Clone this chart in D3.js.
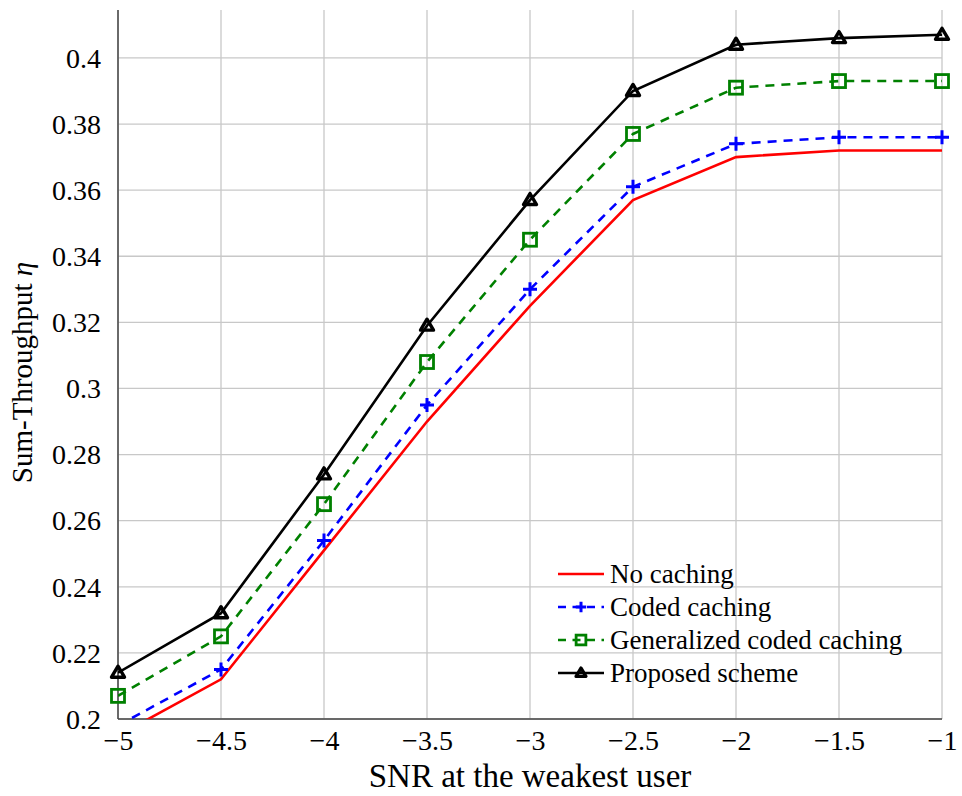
<!DOCTYPE html>
<html>
<head>
<meta charset="utf-8">
<script src="https://cdn.jsdelivr.net/npm/d3@7"></script>
<style>
  body { margin: 0; background: #fff; }
  svg text { font-family: "Liberation Serif", "Times New Roman", serif; }
</style>
</head>
<body>
<div id="chart"></div>
<script>
// data
var snr = [-5, -4.5, -4, -3.5, -3, -2.5, -2, -1.5, -1]
var noCaching = [0.195, 0.212, 0.251, 0.290, 0.325, 0.357, 0.370, 0.372, 0.372]
var codedCaching = [0.198, 0.215, 0.254, 0.295, 0.330, 0.361, 0.374, 0.376, 0.376]
var generalized = [0.207, 0.225, 0.265, 0.308, 0.345, 0.377, 0.391, 0.393, 0.393]
var proposed = [0.214, 0.232, 0.274, 0.319, 0.357, 0.390, 0.404, 0.406, 0.407]
var xTicks = [-5, -4.5, -4, -3.5, -3, -2.5, -2, -1.5, -1]
var yTicks = [0.2, 0.22, 0.24, 0.26, 0.28, 0.3, 0.32, 0.34, 0.36, 0.38, 0.4]
var names = ["No caching", "Coded caching", "Generalized coded caching", "Proposed scheme"]

var svgWidth = 962, svgHeight = 796
var margin = {top: 10, right: 20, bottom: 77, left: 118}
var chartWidth = svgWidth - margin.left - margin.right
var chartHeight = svgHeight - margin.top - margin.bottom

var svg = d3.select("#chart").append("svg")
  .attr("width", svgWidth)
  .attr("height", svgHeight)

var chartGroup = svg.append("g")
  .attr("transform", `translate(${margin.left}, ${margin.top})`)

var xScale = d3.scaleLinear().domain([-5, -1]).range([0, chartWidth])
var yScale = d3.scaleLinear().domain([0.2, 0.4145]).range([chartHeight, 0])

var minus = s => s.replace("-", "\u2212")

// grid
chartGroup.append("g").selectAll("line.gx")
  .data(xTicks).enter().append("line")
  .attr("x1", d => xScale(d)).attr("x2", d => xScale(d))
  .attr("y1", 0).attr("y2", chartHeight)
  .attr("stroke", "#c8c8c8").attr("stroke-width", 1.3)
chartGroup.append("g").selectAll("line.gy")
  .data(yTicks).enter().append("line")
  .attr("x1", 0).attr("x2", chartWidth)
  .attr("y1", d => yScale(d)).attr("y2", d => yScale(d))
  .attr("stroke", "#c8c8c8").attr("stroke-width", 1.3)

// axes
var xAxis = d3.axisBottom(xScale).tickValues(xTicks).tickSize(0).tickPadding(9)
  .tickFormat(d => minus(d3.format("")(d)))
var yAxis = d3.axisLeft(yScale).tickValues(yTicks).tickSize(0).tickPadding(17)
  .tickFormat(d => d3.format("")(d))

var gx = chartGroup.append("g")
  .attr("transform", `translate(0, ${chartHeight})`)
  .call(xAxis)
var gy = chartGroup.append("g").call(yAxis)
gx.select(".domain").remove()
gy.select(".domain").remove()
gx.attr("font-family", null)
gy.attr("font-family", null)
gx.selectAll("text").attr("fill", "#000")
  .style("font-family", "'Liberation Serif', serif").style("font-size", "28px").attr("dy", "0.8em")
gy.selectAll("text").attr("fill", "#000")
  .style("font-family", "'Liberation Serif', serif").style("font-size", "28px").attr("dy", "0.33em")

chartGroup.append("line").attr("x1", 0).attr("x2", 0).attr("y1", 0).attr("y2", chartHeight)
  .attr("stroke", "#444").attr("stroke-width", 1.5)
chartGroup.append("line").attr("x1", 0).attr("x2", chartWidth).attr("y1", chartHeight).attr("y2", chartHeight)
  .attr("stroke", "#444").attr("stroke-width", 1.5)

// clip lines to the plot area
svg.append("defs").append("clipPath").attr("id", "clipLine")
  .append("rect").attr("x", 0).attr("y", -12).attr("width", chartWidth + 12).attr("height", chartHeight + 12)

var series = [
  {name: names[0], values: noCaching, color: "#ff0000", dash: null, mark: "none"},
  {name: names[1], values: codedCaching, color: "#0000ff", dash: "9,7", mark: "plus"},
  {name: names[2], values: generalized, color: "#008000", dash: "9,7", mark: "square"},
  {name: names[3], values: proposed, color: "#000000", dash: null, mark: "triangle"}
]

var line = d3.line().x((d, i) => xScale(snr[i])).y(d => yScale(d))

function drawMark(g, type, color, k) {
  if (type == "plus") {
    g.append("path").attr("d", `M${-7 * k},0H${7 * k}M0,${-7 * k}V${7 * k}`)
      .attr("stroke", color).attr("stroke-width", 3).attr("fill", "none")
  } else if (type == "square") {
    g.append("rect").attr("x", -6.5 * k).attr("y", -6.5 * k).attr("width", 13 * k).attr("height", 13 * k)
      .attr("stroke", color).attr("stroke-width", 2.8).attr("fill", "none")
  } else if (type == "triangle") {
    g.append("path").attr("d", `M0,${-6.5 * k}L${6.5 * k},${4.5 * k}L${-6.5 * k},${4.5 * k}Z`)
      .attr("stroke", color).attr("stroke-width", 3.4).attr("fill", "none")
      .attr("stroke-linejoin", "round")
  }
}

series.forEach(function(s) {
  chartGroup.append("path")
    .datum(s.values)
    .attr("clip-path", "url(#clipLine)")
    .attr("d", line)
    .attr("fill", "none")
    .attr("stroke", s.color)
    .attr("stroke-width", 2.6)
    .attr("stroke-dasharray", s.dash)

  if (s.mark != "none") {
    s.values.forEach(function(v, i) {
      if (v < 0.2) return
      var g = chartGroup.append("g")
        .attr("transform", `translate(${xScale(snr[i])}, ${yScale(v)})`)
      drawMark(g, s.mark, s.color, 1)
    })
  }
})

// legend
var legend = svg.append("g").attr("transform", "translate(558, 574)")
series.forEach(function(s, i) {
  var row = legend.append("g").attr("transform", `translate(0, ${i * 33})`)
  row.append("line").attr("x1", 0).attr("x2", 46).attr("y1", 0).attr("y2", 0)
    .attr("stroke", s.color).attr("stroke-width", 2.6)
    .attr("stroke-dasharray", s.dash ? "8,6.5" : null)
  if (s.mark != "none") {
    var g = row.append("g").attr("transform", "translate(23, 0)")
    drawMark(g, s.mark, s.color, 0.75)
  }
  row.append("text").attr("x", 52).attr("y", 0).attr("dy", "0.33em")
    .style("font-size", "27px").text(s.name)
})

// axis labels
svg.append("text")
  .attr("x", 530).attr("y", 787)
  .attr("text-anchor", "middle").style("font-size", "33px")
  .text("SNR at the weakest user")

var yl = svg.append("text")
  .attr("transform", `translate(32, ${margin.top + chartHeight / 2 + 8}) rotate(-90)`)
  .attr("text-anchor", "middle").style("font-size", "29px")
yl.append("tspan").text("Sum-Throughput ")
yl.append("tspan").attr("font-style", "italic").text("\u03b7")
</script>
</body>
</html>
